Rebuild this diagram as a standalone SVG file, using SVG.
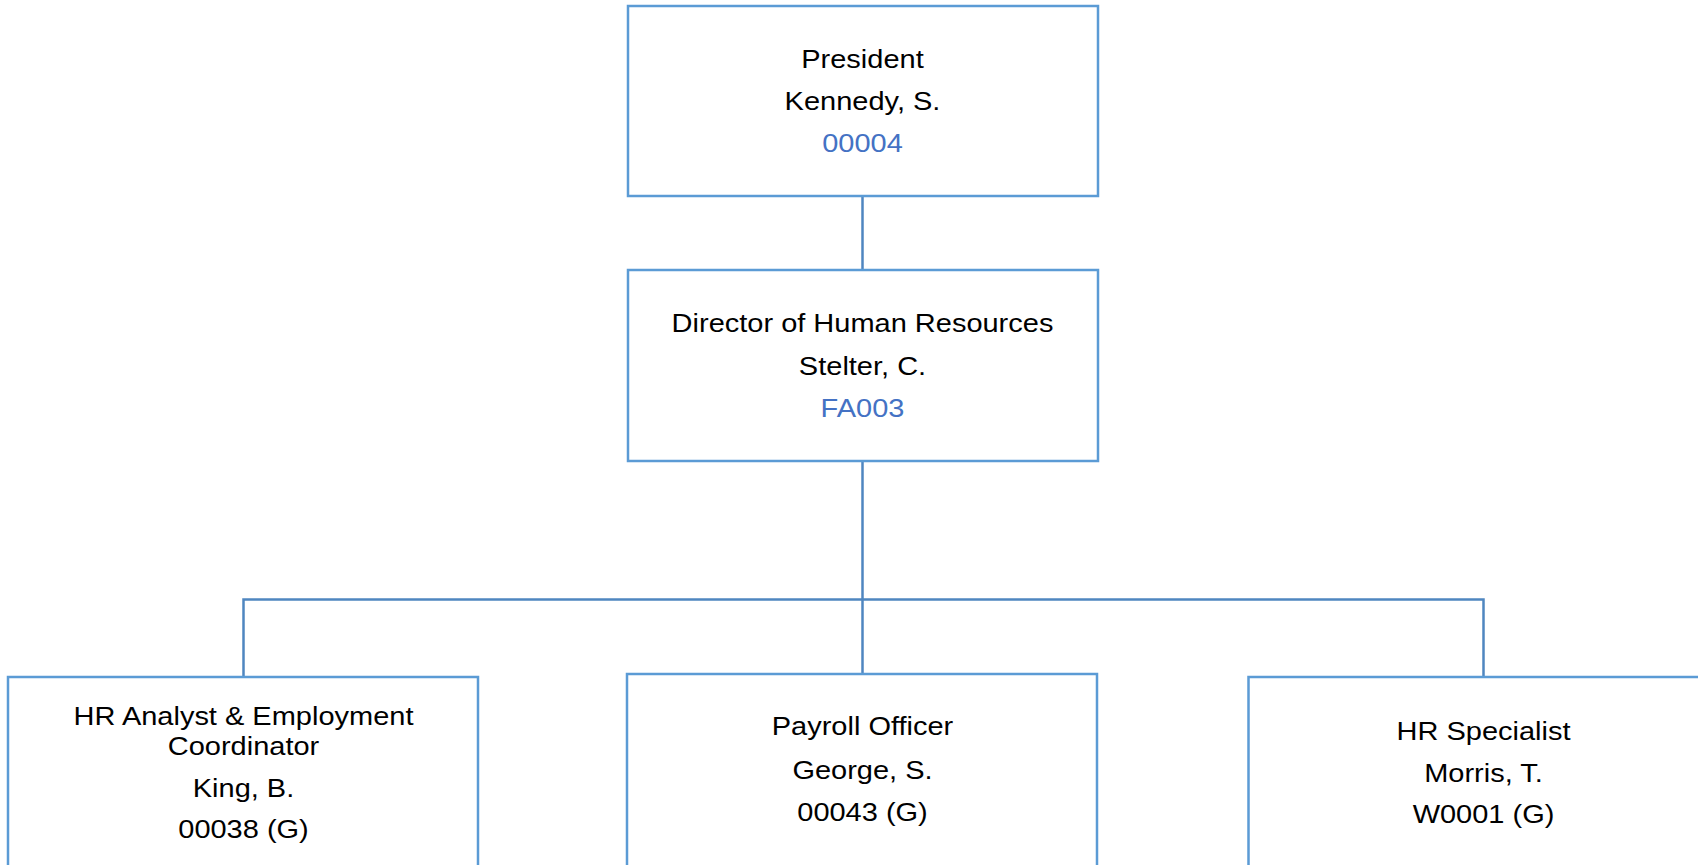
<svg xmlns="http://www.w3.org/2000/svg" width="1698" height="865" viewBox="0 0 1698 865">
<style>
.box{fill:#ffffff;stroke:#5b9bd5;stroke-width:2.5}
.conn{fill:none;stroke:#4f86c0;stroke-width:2.5}
text{font-family:"Liberation Sans",Arial,sans-serif;font-size:26.5px;fill:#000000;text-anchor:middle}
.code{fill:#4472c4}
</style>
<rect width="1698" height="865" fill="#ffffff"/>
<g id="connectors">
<line class="conn" x1="862.5" y1="196" x2="862.5" y2="270"/>
<line class="conn" x1="862.5" y1="461" x2="862.5" y2="674"/>
<polyline class="conn" points="243.5,677 243.5,599.5 1483.5,599.5 1483.5,677"/>
</g>
<g id="n-president">
<rect class="box" x="628" y="6" width="470" height="190"/>
<g transform="translate(862.5,0) scale(1.094,1)">
<text x="0" y="68">President</text>
<text x="0" y="110">Kennedy, S.</text>
<text class="code" x="0" y="152">00004</text>
</g>
</g>
<g id="n-director">
<rect class="box" x="628" y="270" width="470" height="191"/>
<g transform="translate(862.5,0) scale(1.094,1)">
<text x="0" y="332">Director of Human Resources</text>
<text x="0" y="375">Stelter, C.</text>
<text class="code" x="0" y="417">FA003</text>
</g>
</g>
<g id="n-analyst">
<rect class="box" x="8" y="677" width="470" height="200"/>
<g transform="translate(243.5,0) scale(1.094,1)">
<text x="0" y="725">HR Analyst &amp; Employment</text>
<text x="0" y="755">Coordinator</text>
<text x="0" y="797">King, B.</text>
<text x="0" y="838">00038 (G)</text>
</g>
</g>
<g id="n-payroll">
<rect class="box" x="627" y="674" width="470" height="200"/>
<g transform="translate(862.5,0) scale(1.094,1)">
<text x="0" y="735">Payroll Officer</text>
<text x="0" y="779">George, S.</text>
<text x="0" y="821">00043 (G)</text>
</g>
</g>
<g id="n-specialist">
<rect class="box" x="1248.5" y="677" width="470" height="200"/>
<g transform="translate(1483.5,0) scale(1.094,1)">
<text x="0" y="740">HR Specialist</text>
<text x="0" y="782">Morris, T.</text>
<text x="0" y="823">W0001 (G)</text>
</g>
</g>
</svg>
